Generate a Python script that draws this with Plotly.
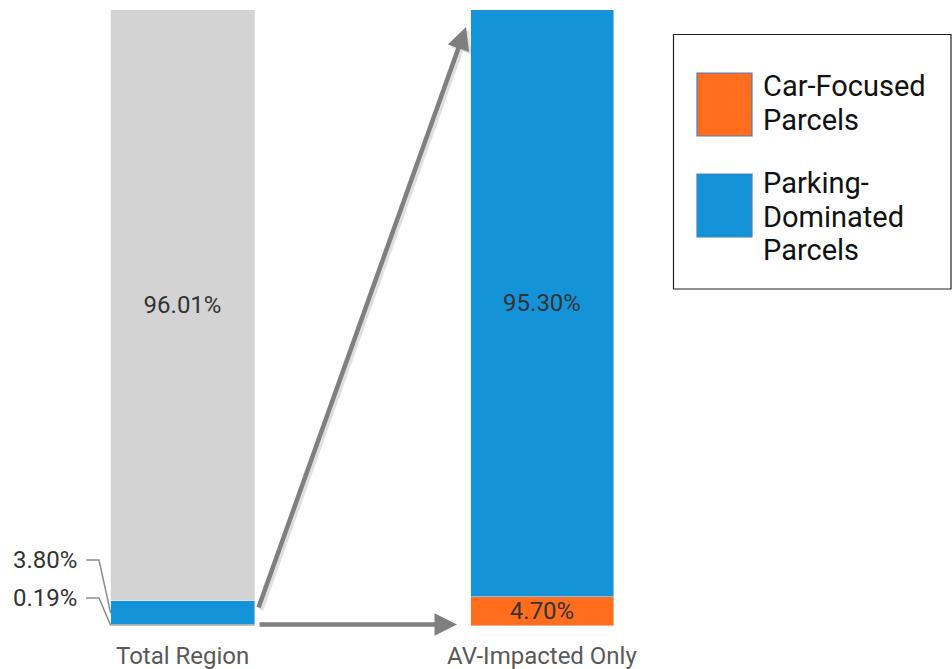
import plotly.graph_objects as go

# Share of parcels, stacked bottom-up
categories = ["Total Region", "AV-Impacted Only"]
car_focused = [0.19, 4.70]
parking_dominated = [3.80, 95.30]
other = [96.01, 0.0]

series_names = [["Car-Focused", "Parcels"], ["Parking-", "Dominated", "Parcels"]]

ORANGE = "#ff6d1d"
BLUE = "#1493d9"
GRAY = "#d3d3d3"
ARROW = "#7f7f7f"
FONT = "Roboto, Arial, sans-serif"

W, H = 952, 669
x_pos = [0, 1]

# plot area in pixels
PL, PR, PT, PB = 2.75, 722.0, 10.0, 626.0


def px(xp):
    return xp / W


def py(yp):
    return 1 - yp / H


def dx(xp):
    # pixel -> data x
    return (xp - PL) / ((PR - PL) / 2) - 0.5


def dy(yp):
    return (PB - yp) / ((PB - PT) / 100)


label_font = dict(size=24, color="#333333", family=FONT)

fig = go.Figure()
fig.add_trace(go.Bar(
    x=x_pos, y=car_focused, marker_color=ORANGE, width=0.4,
    text=["", f"{car_focused[1]:.2f}%"], textposition="inside",
    insidetextanchor="middle", constraintext="none", textfont=label_font,
    showlegend=False, hoverinfo="skip"))
fig.add_trace(go.Bar(
    x=x_pos, y=parking_dominated, marker_color=BLUE, width=0.4,
    text=["", f"{parking_dominated[1]:.2f}%"], textposition="inside",
    insidetextanchor="middle", constraintext="none", textfont=label_font,
    showlegend=False, hoverinfo="skip"))
fig.add_trace(go.Bar(
    x=x_pos, y=other, marker_color=GRAY, width=0.4,
    text=[f"{other[0]:.2f}%", ""], textposition="inside",
    insidetextanchor="middle", constraintext="none", textfont=label_font,
    showlegend=False, hoverinfo="skip"))

annotations = []
shapes = []

# outside labels with leader lines for the thin segments of the first bar
small_labels = [
    (parking_dominated[0], car_focused[0] + parking_dominated[0] / 2, 560),
    (car_focused[0], car_focused[0] / 2, 598),
]
for val, mid, ypix in small_labels:
    annotations.append(dict(
        x=dx(79), y=dy(ypix), xref="x", yref="y", text=f"{val:.2f}%",
        showarrow=False, xanchor="right", yanchor="middle", font=label_font))
    shapes.append(dict(
        type="path", xref="x", yref="y",
        path=f"M {dx(86)},{dy(ypix)} L {dx(99)},{dy(ypix)} L -0.2,{mid}",
        line=dict(color="#8c8c8c", width=1.5)))

# arrows from the total bar to the AV-impacted bar (with soft shadow)
arrows = [
    ((258, 609), (466, 27)),
    ((258, 624.5), (457, 624.5)),
]
for (tx, ty), (hx, hy) in arrows:
    for off, col in ((2.5, "rgba(0,0,0,0.12)"), (0, ARROW)):
        annotations.append(dict(
            x=dx(hx + off), y=dy(hy + off), ax=dx(tx + off), ay=dy(ty + off),
            xref="x", yref="y", axref="x", ayref="y",
            showarrow=True, arrowhead=2, arrowsize=1.0, arrowwidth=4.5,
            arrowcolor=col, text=""))

# category labels
for xi, cat in zip(x_pos, categories):
    annotations.append(dict(
        x=xi, y=py(656), xref="x", yref="paper", text=cat, showarrow=False,
        xanchor="center", yanchor="middle",
        font=dict(size=24, color="#595959", family=FONT)))

# legend box
shapes.append(dict(type="rect", xref="paper", yref="paper",
                   x0=px(673.5), x1=px(951), y0=py(289), y1=py(34.5),
                   line=dict(color="#222222", width=1.2), fillcolor="white"))
legend_items = [
    (ORANGE, series_names[0], 73, 136, 86),
    (BLUE, series_names[1], 174, 237, 183),
]
for col, lines, y0, y1, ytxt in legend_items:
    shapes.append(dict(type="rect", xref="paper", yref="paper",
                       x0=px(697), x1=px(752), y0=py(y1), y1=py(y0),
                       line=dict(color="#4a7ebb", width=1.2), fillcolor=col))
    for i, line in enumerate(lines):
        annotations.append(dict(
            x=px(761), y=py(ytxt + 33.5 * i), xref="paper", yref="paper", text=line,
            showarrow=False, xanchor="left", yanchor="middle", align="left",
            font=dict(size=29, color="#111111", family=FONT)))

fig.update_layout(
    width=W, height=H, barmode="stack",
    margin=dict(l=0, r=0, t=0, b=0),
    paper_bgcolor="white", plot_bgcolor="white",
    font=dict(family=FONT),
    xaxis=dict(domain=[PL / W, PR / W], range=[-0.5, 1.5], showgrid=False,
               zeroline=False, showticklabels=False, showline=False, fixedrange=True),
    yaxis=dict(domain=[1 - PB / H, 1 - PT / H], range=[0, 100], showgrid=False,
               zeroline=False, showticklabels=False, showline=False, fixedrange=True),
    annotations=annotations, shapes=shapes, bargap=0,
)

fig.write_html("out.html")
